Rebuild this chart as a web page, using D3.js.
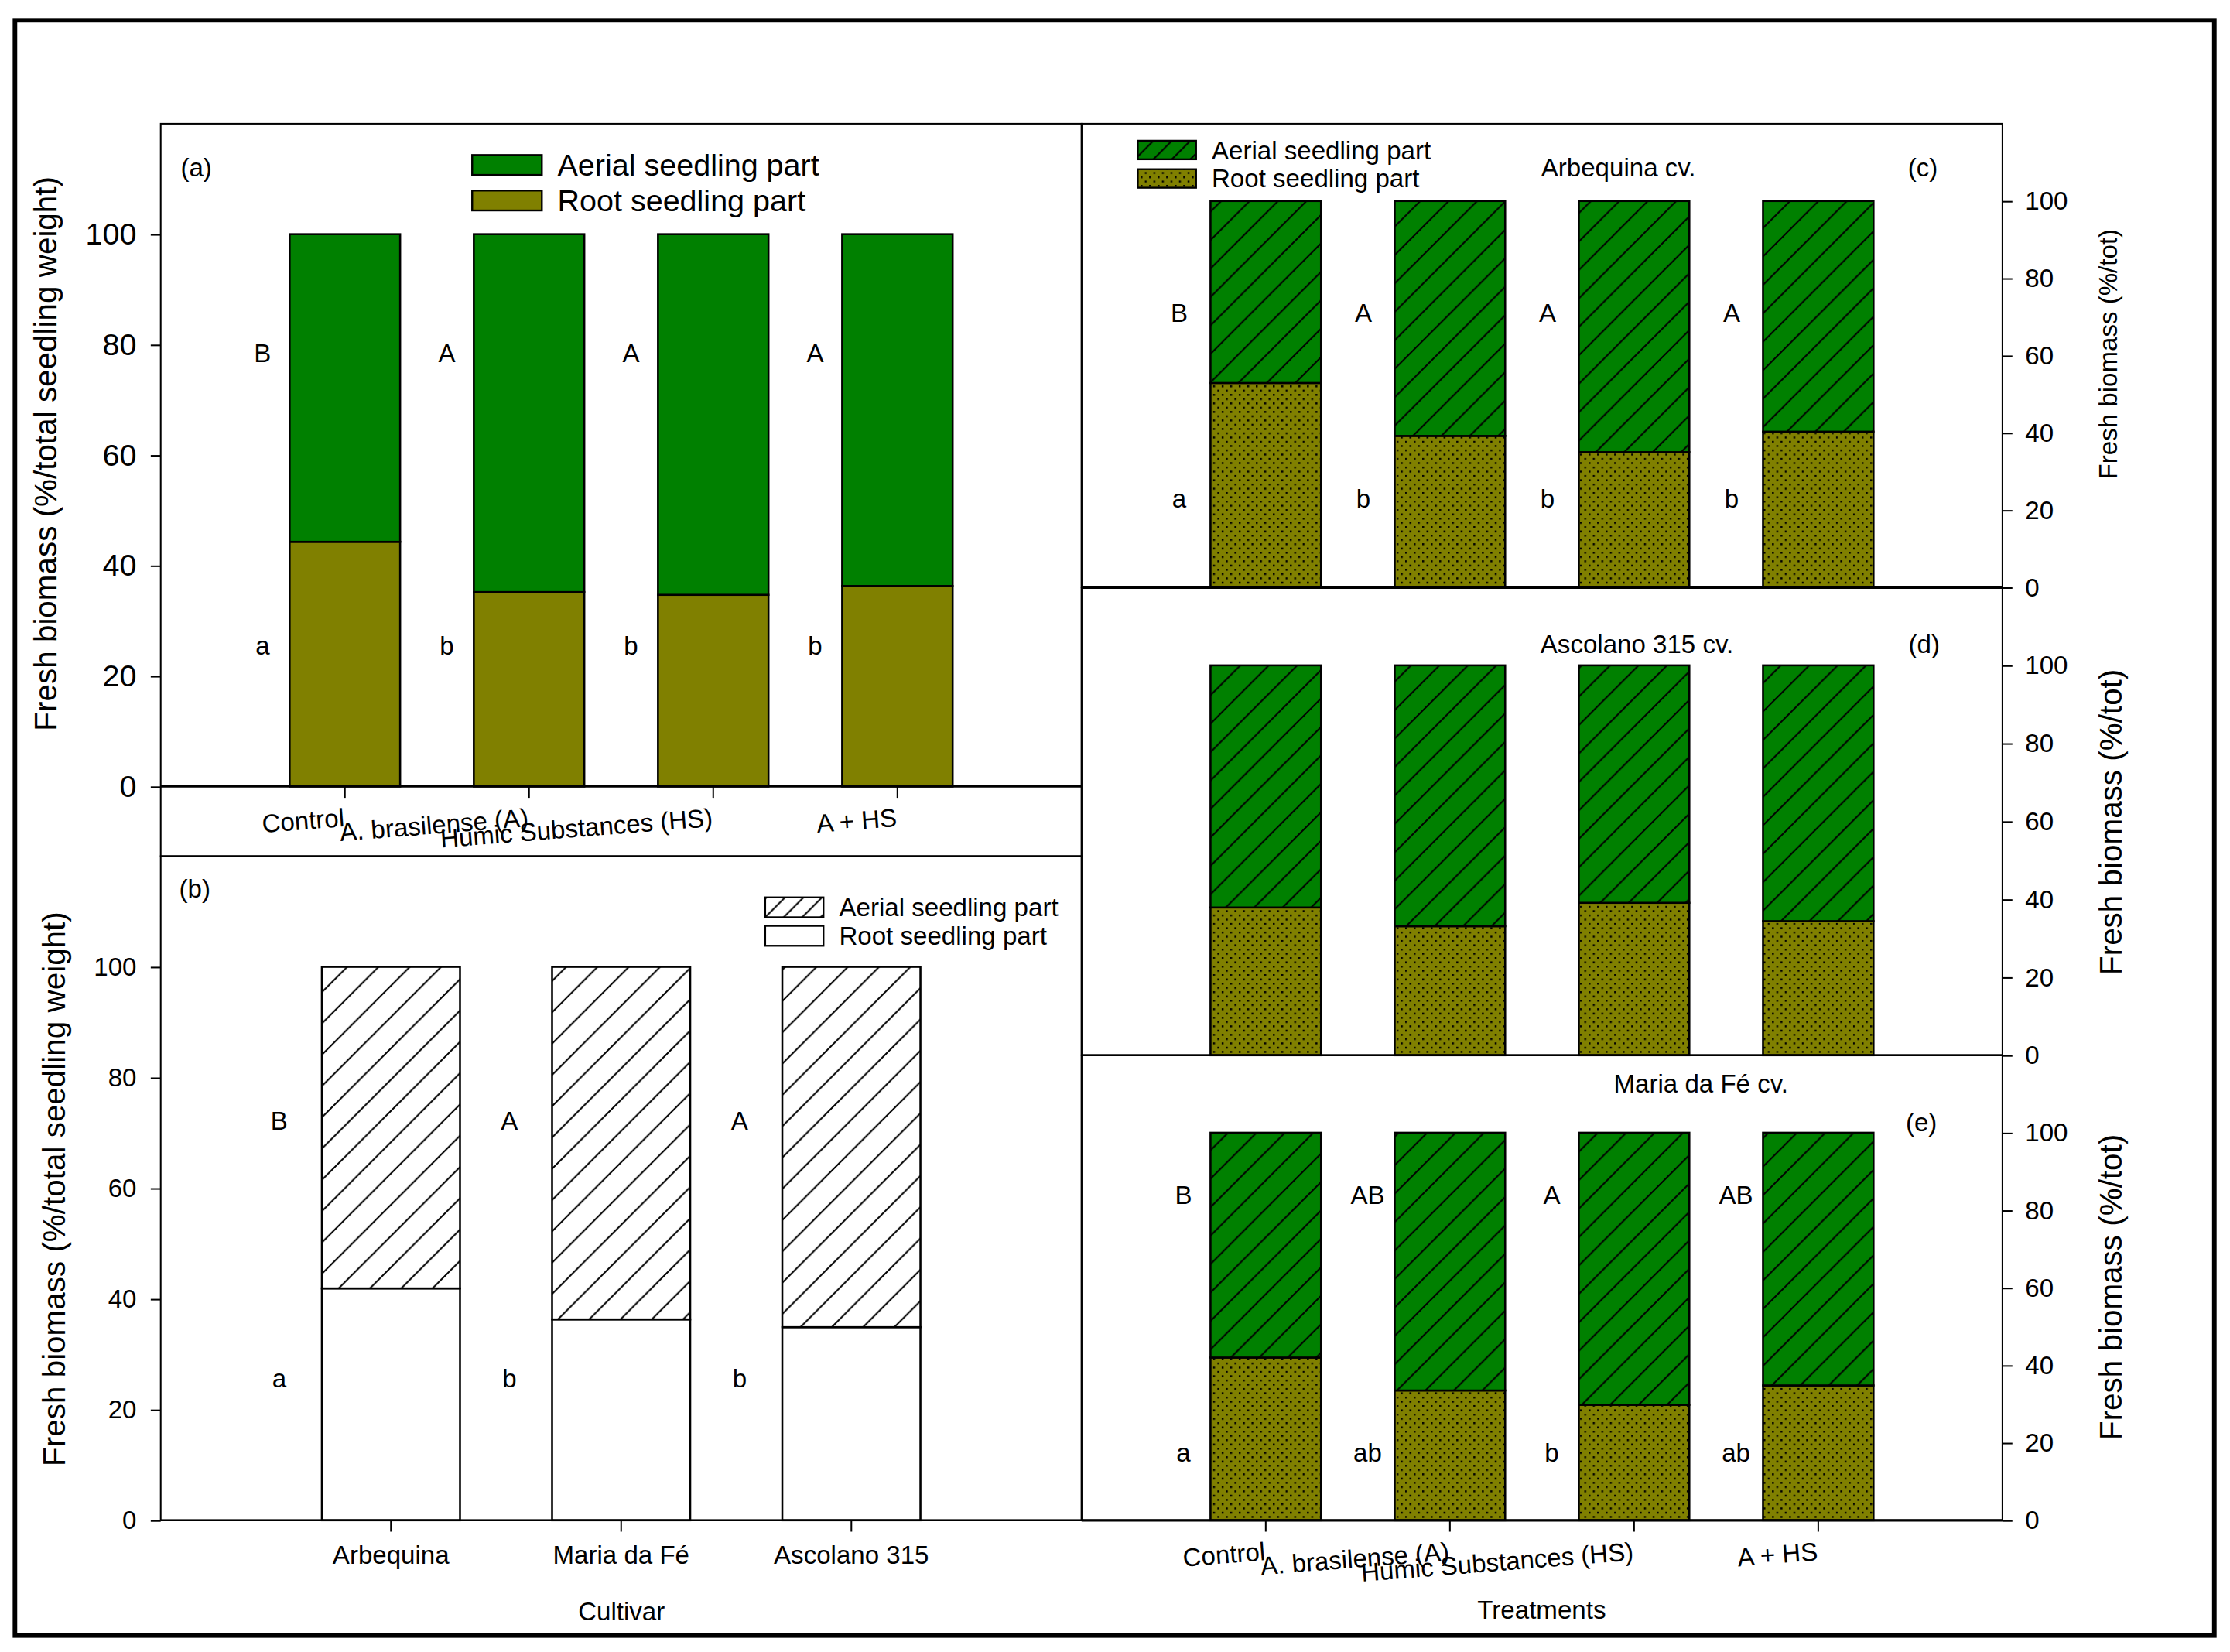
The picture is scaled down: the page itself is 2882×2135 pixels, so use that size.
<!DOCTYPE html>
<html>
<head>
<meta charset="utf-8">
<script src="https://cdn.jsdelivr.net/npm/d3@7"></script>
<style>
body { margin: 0; background: #fff; }
text { font-family: "Liberation Sans", Arial, sans-serif; fill: #000; }
</style>
</head>
<body>
<div id="chart"></div>
<script>
// --- Data (% of total seedling fresh weight) ---
const treatments = ["Control", "A. brasilense (A)", "Humic Substances (HS)", "A + HS"];
const cultivars = ["Arbequina", "Maria da Fé", "Ascolano 315"];
const yTicks = [0, 20, 40, 60, 80, 100];

// (a) all cultivars, by treatment
const rootA = [44.3, 35.2, 34.7, 36.3];
const aerialA = [55.7, 64.8, 65.3, 63.7];
const upperA = ["B", "A", "A", "A"];
const lowerA = ["a", "b", "b", "b"];

// (b) by cultivar
const rootB = [41.9, 36.3, 34.9];
const aerialB = [58.1, 63.7, 65.1];
const upperB = ["B", "A", "A"];
const lowerB = ["a", "b", "b"];

// (c) Arbequina
const rootC = [52.9, 39.2, 35.0, 40.3];
const aerialC = [47.1, 60.8, 65.0, 59.7];
const upperC = ["B", "A", "A", "A"];
const lowerC = ["a", "b", "b", "b"];

// (d) Ascolano 315
const rootD = [37.9, 33.1, 39.1, 34.4];
const aerialD = [62.1, 66.9, 60.9, 65.6];

// (e) Maria da Fé
const rootE = [42.0, 33.5, 29.8, 34.8];
const aerialE = [58.0, 66.5, 70.2, 65.2];
const upperE = ["B", "AB", "A", "AB"];
const lowerE = ["a", "ab", "b", "ab"];

const GREEN = "#008000", OLIVE = "#808000";

// drawing in a 1568 wide coordinate space, scaled to the 2882x2135 page
const W = 1568, H = 1161.6;
const svg = d3.select("#chart").append("svg")
    .attr("width", 2882)
    .attr("height", 2135)
    .attr("viewBox", `0 0 ${W} ${H}`);

// patterns
const defs = svg.append("defs");

function hatch(id, size, fill) {
    const p = defs.append("pattern")
        .attr("id", id)
        .attr("patternUnits", "userSpaceOnUse")
        .attr("width", size).attr("height", size);
    p.append("rect").attr("width", size).attr("height", size).attr("fill", fill);
    p.append("path")
        .attr("d", `M0,${size} L${size},0 M${-size / 4},${size / 4} L${size / 4},${-size / 4} M${size * 0.75},${size * 1.25} L${size * 1.25},${size * 0.75}`)
        .attr("stroke", "#000")
        .attr("stroke-width", 1.1);
}
hatch("hatchGreen", 20, GREEN);
hatch("hatchWhite", 22, "#fff");
hatch("hatchGreenSmall", 13, GREEN);
hatch("hatchWhiteSmall", 13, "#fff");

const dots = defs.append("pattern")
    .attr("id", "dots")
    .attr("patternUnits", "userSpaceOnUse")
    .attr("width", 6).attr("height", 6);
dots.append("rect").attr("width", 6).attr("height", 6).attr("fill", OLIVE);
dots.append("rect").attr("x", 1).attr("y", 1).attr("width", 1.3).attr("height", 1.3).attr("fill", "#000");
dots.append("rect").attr("x", 4).attr("y", 4).attr("width", 1.3).attr("height", 1.3).attr("fill", "#000");

// outer border
svg.append("rect")
    .attr("x", 10.5).attr("y", 14.3)
    .attr("width", 1546.5).attr("height", 1135.7)
    .attr("fill", "none").attr("stroke", "#000").attr("stroke-width", 3.2);

/**
 * One stacked panel: frame, bars, axes, significance letters.
 */
function drawPanel(cfg) {
    const g = svg.append("g");

    const x = d3.scaleBand()
        .domain(cfg.cats)
        .range([cfg.x0, cfg.x1])
        .paddingInner(0.4)
        .paddingOuter(0.7);

    const y = d3.scaleLinear()
        .domain([0, 120])
        .range([cfg.bottom, cfg.top]);

    const rows = cfg.cats.map((c, i) => ({ cat: c, root: cfg.root[i], aerial: cfg.aerial[i] }));
    const series = d3.stack().keys(["root", "aerial"])(rows);
    const fills = { root: cfg.rootFill, aerial: cfg.aerialFill };

    series.forEach(s => {
        g.selectAll(null)
            .data(s)
            .enter()
            .append("rect")
            .attr("x", d => x(d.data.cat))
            .attr("y", d => y(d[1]))
            .attr("width", x.bandwidth())
            .attr("height", d => y(d[0]) - y(d[1]))
            .attr("fill", fills[s.key])
            .attr("stroke", "#000")
            .attr("stroke-width", 1.4);
    });

    // frame
    g.append("rect")
        .attr("x", cfg.x0).attr("y", cfg.top)
        .attr("width", cfg.x1 - cfg.x0)
        .attr("height", (cfg.frameBottom || cfg.bottom) - cfg.top)
        .attr("fill", "none").attr("stroke", "#000").attr("stroke-width", 1.1);
    g.append("line")
        .attr("x1", cfg.x0).attr("x2", cfg.x1)
        .attr("y1", cfg.bottom).attr("y2", cfg.bottom)
        .attr("stroke", "#000").attr("stroke-width", cfg.axisWidth || 1.4);

    // y axis
    const yAxis = cfg.side === "left"
        ? d3.axisLeft(y).tickValues(yTicks).tickSize(7).tickPadding(10)
        : d3.axisRight(y).tickValues(yTicks).tickSize(7).tickPadding(9);
    const ya = g.append("g")
        .attr("transform", `translate(${cfg.side === "left" ? cfg.x0 : cfg.x1},0)`)
        .call(yAxis);
    ya.select(".domain").remove();
    ya.selectAll("line").attr("stroke-width", 1.1);
    ya.selectAll("text")
        .attr("font-family", null)
        .style("font-size", cfg.tickFont + "px");
    ya.attr("font-family", null).attr("font-size", null);

    // x axis
    if (cfg.xAxis) {
        const xa = g.append("g")
            .attr("transform", `translate(0,${cfg.bottom})`)
            .call(d3.axisBottom(x).tickSize(8).tickPadding(10));
        xa.select(".domain").remove();
        xa.selectAll("line").attr("stroke-width", 1.1);
        xa.attr("font-family", null).attr("font-size", null);
        const t = xa.selectAll("text").style("font-size", "18px");
        if (cfg.xAxis === "tilted") {
            t.attr("y", 0).attr("dy", 0)
                .attr("text-anchor", "end")
                .attr("transform", "translate(0,28) rotate(-4.5)");
        }
    }

    // significance letters, to the left of each bar
    const letters = (arr, at) => {
        if (!arr) return;
        g.selectAll(null)
            .data(arr)
            .enter()
            .append("text")
            .attr("x", (d, i) => x(cfg.cats[i]) - cfg.letterDx)
            .attr("y", y(at))
            .attr("dy", "0.35em")
            .attr("text-anchor", "middle")
            .style("font-size", "18px")
            .text(d => d);
    };
    letters(cfg.upper, cfg.upperAt);
    letters(cfg.lower, cfg.lowerAt);

    return g;
}

function label(txt, x, y, size, opts = {}) {
    const t = svg.append("text")
        .attr("transform", `translate(${x},${y})${opts.rotate ? " rotate(-90)" : ""}`)
        .attr("dy", "0.35em")
        .attr("text-anchor", opts.anchor || "middle")
        .style("font-size", size + "px")
        .text(txt);
    return t;
}

function legendItem(x, y, w, h, fill, txt, size) {
    svg.append("rect")
        .attr("x", x).attr("y", y).attr("width", w).attr("height", h)
        .attr("fill", fill).attr("stroke", "#000").attr("stroke-width", 1.3);
    label(txt, x + w + 11, y + h / 2, size, { anchor: "start" });
}

// (a)
drawPanel({
    cats: treatments, root: rootA, aerial: aerialA,
    x0: 113, x1: 760.5, top: 87, bottom: 553, frameBottom: 602,
    rootFill: OLIVE, aerialFill: GREEN,
    side: "left", tickFont: 21.5, xAxis: "tilted",
    upper: upperA, lower: lowerA, upperAt: 78.5, lowerAt: 25.5, letterDx: 19
});
// (b)
drawPanel({
    cats: cultivars, root: rootB, aerial: aerialB,
    x0: 113, x1: 760.5, top: 602, bottom: 1069,
    rootFill: "#fff", aerialFill: "url(#hatchWhite)",
    side: "left", tickFont: 18, xAxis: "flat",
    upper: upperB, lower: lowerB, upperAt: 72.2, lowerAt: 25.6, letterDx: 30
});
// (c)
drawPanel({
    cats: treatments, root: rootC, aerial: aerialC,
    x0: 760.5, x1: 1408, top: 87, bottom: 413, axisWidth: 2.2,
    rootFill: "url(#dots)", aerialFill: "url(#hatchGreen)",
    side: "right", tickFont: 18,
    upper: upperC, lower: lowerC, upperAt: 71, lowerAt: 23, letterDx: 22
});
// (d)
drawPanel({
    cats: treatments, root: rootD, aerial: aerialD,
    x0: 760.5, x1: 1408, top: 413, bottom: 742,
    rootFill: "url(#dots)", aerialFill: "url(#hatchGreen)",
    side: "right", tickFont: 18
});
// (e)
drawPanel({
    cats: treatments, root: rootE, aerial: aerialE,
    x0: 760.5, x1: 1408, top: 742, bottom: 1069, axisWidth: 1.8,
    rootFill: "url(#dots)", aerialFill: "url(#hatchGreen)",
    side: "right", tickFont: 18, xAxis: "tilted",
    upper: upperE, lower: lowerE, upperAt: 84, lowerAt: 17.5, letterDx: 19
});

// axis titles
label("Fresh biomass (%/total seedling weight)", 32, 319, 22, { rotate: true });
label("Fresh biomass (%/total seedling weight)", 38, 836, 22, { rotate: true });
label("Fresh biomass (%/tot)", 1482, 249, 18, { rotate: true });
label("Fresh biomass (%/tot)", 1484, 578, 22, { rotate: true });
label("Fresh biomass (%/tot)", 1484, 905, 22, { rotate: true });
label("Cultivar", 437, 1133, 18);
label("Treatments", 1084, 1132, 18);

// panel tags and cultivar titles
label("(a)", 138, 118, 18);
label("(b)", 137, 625, 18);
label("(c)", 1352, 118, 18);
label("(d)", 1353, 453, 18);
label("(e)", 1351, 789, 18);
label("Arbequina cv.", 1138, 118, 18);
label("Ascolano 315 cv.", 1151, 453, 18);
label("Maria da Fé cv.", 1196, 762, 18);

// legends
legendItem(332, 109, 49, 14, GREEN, "Aerial seedling part", 21.5);
legendItem(332, 134, 49, 14, OLIVE, "Root seedling part", 21.5);
legendItem(538, 631, 41, 14, "url(#hatchWhiteSmall)", "Aerial seedling part", 18);
legendItem(538, 651, 41, 14, "#fff", "Root seedling part", 18);
legendItem(800, 99, 41, 13, "url(#hatchGreenSmall)", "Aerial seedling part", 18);
legendItem(800, 119, 41, 13, "url(#dots)", "Root seedling part", 18);
</script>
</body>
</html>
